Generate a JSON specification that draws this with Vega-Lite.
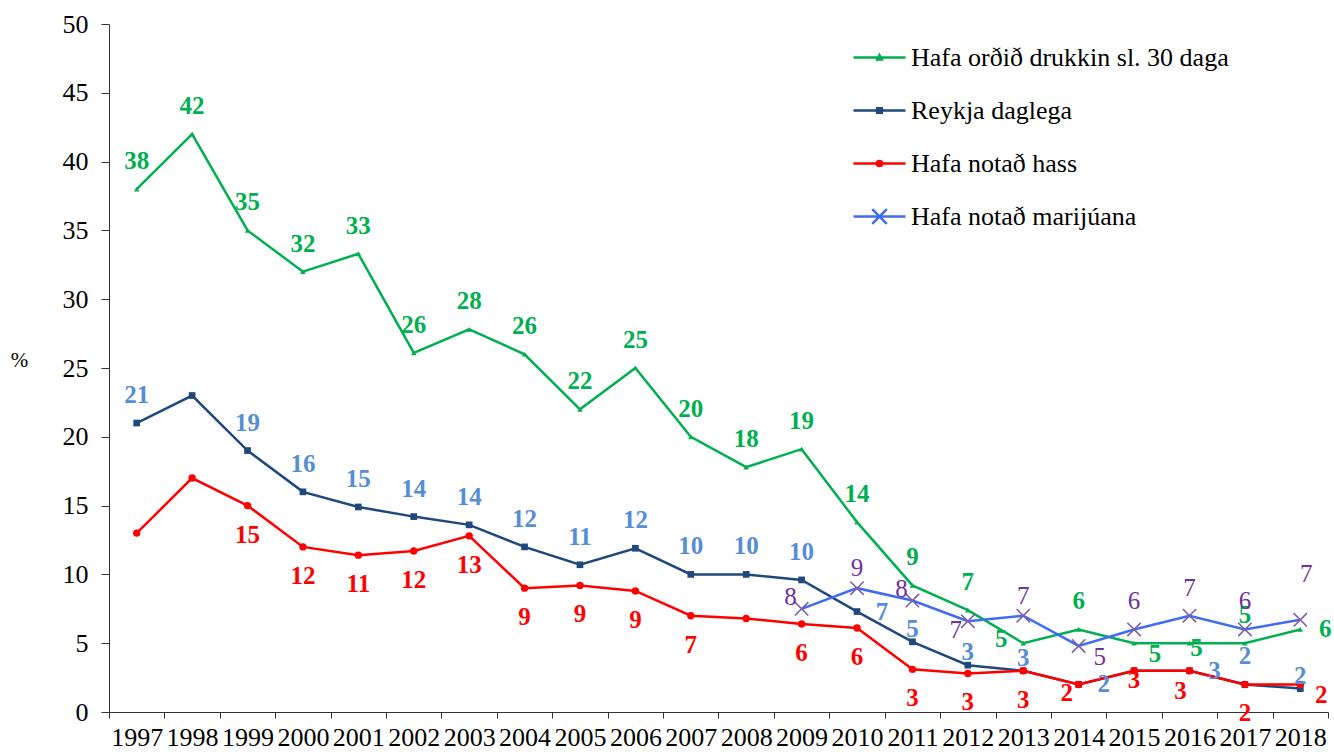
{
  "$schema": "https://vega.github.io/schema/vega-lite/v6.json",
  "width": 1219,
  "height": 688,
  "autosize": {"type": "none"},
  "padding": {"left": 109, "top": 24, "right": 6, "bottom": 43},
  "background": "white",
  "config": {"view": {"stroke": null}, "font": "Liberation Serif"},
  "data": {"values": [
    {"year": 1997, "series": "Hafa orðið drukkin sl. 30 daga", "value": 38, "pos": "above"},
    {"year": 1998, "series": "Hafa orðið drukkin sl. 30 daga", "value": 42, "pos": "above"},
    {"year": 1999, "series": "Hafa orðið drukkin sl. 30 daga", "value": 35, "pos": "above"},
    {"year": 2000, "series": "Hafa orðið drukkin sl. 30 daga", "value": 32, "pos": "above"},
    {"year": 2001, "series": "Hafa orðið drukkin sl. 30 daga", "value": 33.3, "pos": "above"},
    {"year": 2002, "series": "Hafa orðið drukkin sl. 30 daga", "value": 26.1, "pos": "above"},
    {"year": 2003, "series": "Hafa orðið drukkin sl. 30 daga", "value": 27.8, "pos": "above"},
    {"year": 2004, "series": "Hafa orðið drukkin sl. 30 daga", "value": 26, "pos": "above"},
    {"year": 2005, "series": "Hafa orðið drukkin sl. 30 daga", "value": 22, "pos": "above"},
    {"year": 2006, "series": "Hafa orðið drukkin sl. 30 daga", "value": 25, "pos": "above"},
    {"year": 2007, "series": "Hafa orðið drukkin sl. 30 daga", "value": 20, "pos": "above"},
    {"year": 2008, "series": "Hafa orðið drukkin sl. 30 daga", "value": 17.8, "pos": "above"},
    {"year": 2009, "series": "Hafa orðið drukkin sl. 30 daga", "value": 19.1, "pos": "above"},
    {"year": 2010, "series": "Hafa orðið drukkin sl. 30 daga", "value": 13.8, "pos": "above"},
    {"year": 2011, "series": "Hafa orðið drukkin sl. 30 daga", "value": 9.2, "pos": "above"},
    {"year": 2012, "series": "Hafa orðið drukkin sl. 30 daga", "value": 7.4, "pos": "above"},
    {"year": 2013, "series": "Hafa orðið drukkin sl. 30 daga", "value": 5, "pos": "left"},
    {"year": 2014, "series": "Hafa orðið drukkin sl. 30 daga", "value": 6, "pos": "above"},
    {"year": 2015, "series": "Hafa orðið drukkin sl. 30 daga", "value": 5, "pos": "downRight"},
    {"year": 2016, "series": "Hafa orðið drukkin sl. 30 daga", "value": 5, "pos": "onRight"},
    {"year": 2017, "series": "Hafa orðið drukkin sl. 30 daga", "value": 5, "pos": "above"},
    {"year": 2018, "series": "Hafa orðið drukkin sl. 30 daga", "value": 6, "pos": "right"},
    {"year": 1997, "series": "Reykja daglega", "value": 21, "pos": "above"},
    {"year": 1998, "series": "Reykja daglega", "value": 23, "pos": "none"},
    {"year": 1999, "series": "Reykja daglega", "value": 19, "pos": "above"},
    {"year": 2000, "series": "Reykja daglega", "value": 16, "pos": "above"},
    {"year": 2001, "series": "Reykja daglega", "value": 14.9, "pos": "above"},
    {"year": 2002, "series": "Reykja daglega", "value": 14.2, "pos": "above"},
    {"year": 2003, "series": "Reykja daglega", "value": 13.6, "pos": "above"},
    {"year": 2004, "series": "Reykja daglega", "value": 12, "pos": "above"},
    {"year": 2005, "series": "Reykja daglega", "value": 10.7, "pos": "above"},
    {"year": 2006, "series": "Reykja daglega", "value": 11.9, "pos": "above"},
    {"year": 2007, "series": "Reykja daglega", "value": 10, "pos": "above"},
    {"year": 2008, "series": "Reykja daglega", "value": 10, "pos": "above"},
    {"year": 2009, "series": "Reykja daglega", "value": 9.6, "pos": "above"},
    {"year": 2010, "series": "Reykja daglega", "value": 7.3, "pos": "right"},
    {"year": 2011, "series": "Reykja daglega", "value": 5.1, "pos": "nearAbove"},
    {"year": 2012, "series": "Reykja daglega", "value": 3.4, "pos": "nearAbove"},
    {"year": 2013, "series": "Reykja daglega", "value": 3, "pos": "nearAbove"},
    {"year": 2014, "series": "Reykja daglega", "value": 2, "pos": "right"},
    {"year": 2015, "series": "Reykja daglega", "value": 3, "pos": "none"},
    {"year": 2016, "series": "Reykja daglega", "value": 3, "pos": "right"},
    {"year": 2017, "series": "Reykja daglega", "value": 2, "pos": "above"},
    {"year": 2018, "series": "Reykja daglega", "value": 1.7, "pos": "nearAbove"},
    {"year": 1997, "series": "Hafa notað hass", "value": 13, "pos": "none"},
    {"year": 1998, "series": "Hafa notað hass", "value": 17, "pos": "none"},
    {"year": 1999, "series": "Hafa notað hass", "value": 15, "pos": "below"},
    {"year": 2000, "series": "Hafa notað hass", "value": 12, "pos": "below"},
    {"year": 2001, "series": "Hafa notað hass", "value": 11.4, "pos": "below"},
    {"year": 2002, "series": "Hafa notað hass", "value": 11.7, "pos": "below"},
    {"year": 2003, "series": "Hafa notað hass", "value": 12.8, "pos": "below"},
    {"year": 2004, "series": "Hafa notað hass", "value": 9, "pos": "below"},
    {"year": 2005, "series": "Hafa notað hass", "value": 9.2, "pos": "below"},
    {"year": 2006, "series": "Hafa notað hass", "value": 8.8, "pos": "below"},
    {"year": 2007, "series": "Hafa notað hass", "value": 7, "pos": "below"},
    {"year": 2008, "series": "Hafa notað hass", "value": 6.8, "pos": "none"},
    {"year": 2009, "series": "Hafa notað hass", "value": 6.4, "pos": "below"},
    {"year": 2010, "series": "Hafa notað hass", "value": 6.1, "pos": "below"},
    {"year": 2011, "series": "Hafa notað hass", "value": 3.1, "pos": "below"},
    {"year": 2012, "series": "Hafa notað hass", "value": 2.8, "pos": "below"},
    {"year": 2013, "series": "Hafa notað hass", "value": 3, "pos": "below"},
    {"year": 2014, "series": "Hafa notað hass", "value": 2, "pos": "downLeft"},
    {"year": 2015, "series": "Hafa notað hass", "value": 3, "pos": "nearBelow"},
    {"year": 2016, "series": "Hafa notað hass", "value": 3, "pos": "belowLeft"},
    {"year": 2017, "series": "Hafa notað hass", "value": 2, "pos": "below"},
    {"year": 2018, "series": "Hafa notað hass", "value": 2, "pos": "downRight"},
    {"year": 2009, "series": "Hafa notað marijúana", "value": 7.5, "pos": "upLeft"},
    {"year": 2010, "series": "Hafa notað marijúana", "value": 9, "pos": "aboveMid"},
    {"year": 2011, "series": "Hafa notað marijúana", "value": 8.1, "pos": "upLeft"},
    {"year": 2012, "series": "Hafa notað marijúana", "value": 6.6, "pos": "downLeft"},
    {"year": 2013, "series": "Hafa notað marijúana", "value": 7, "pos": "aboveMid"},
    {"year": 2014, "series": "Hafa notað marijúana", "value": 4.8, "pos": "downRight"},
    {"year": 2015, "series": "Hafa notað marijúana", "value": 6, "pos": "above"},
    {"year": 2016, "series": "Hafa notað marijúana", "value": 7, "pos": "above"},
    {"year": 2017, "series": "Hafa notað marijúana", "value": 6, "pos": "above"},
    {"year": 2018, "series": "Hafa notað marijúana", "value": 6.7, "pos": "high"}
  ]},
  "encoding": {
    "x": {
      "field": "year", "type": "ordinal",
      "scale": {"type": "band", "paddingInner": 0, "paddingOuter": 0},
      "axis": {"title": null, "labelAngle": 0, "tickBand": "extent", "tickSize": 6, "labelFontSize": 26, "labelFont": "Liberation Serif", "labelColor": "#000", "domainColor": "#333", "tickColor": "#333", "labelPadding": 6, "grid": false, "labelOverlap": false}
    },
    "y": {
      "field": "value", "type": "quantitative",
      "scale": {"domain": [0, 50], "nice": false},
      "axis": {"title": "%", "titleAngle": 0, "titleX": -90, "titleY": 336, "titleFontSize": 21, "titleFontWeight": "normal", "titleFont": "Liberation Serif", "titleAlign": "center", "titleBaseline": "middle", "titleColor": "#000", "values": [0, 5, 10, 15, 20, 25, 30, 35, 40, 45, 50], "tickSize": 8, "labelPadding": 13, "labelFontSize": 26, "labelFont": "Liberation Serif", "labelColor": "#000", "grid": false, "domainColor": "#333", "tickColor": "#333"}
    }
  },
  "layer": [
    {
      "mark": {"type": "line", "strokeWidth": 2.5},
      "encoding": {
        "stroke": {
          "field": "series", "type": "nominal",
          "scale": {"domain": ["Hafa orðið drukkin sl. 30 daga", "Reykja daglega", "Hafa notað hass", "Hafa notað marijúana"], "range": ["#00B050", "#1F497D", "#FF0000", "#3F6BF5"]},
          "legend": {
            "title": null, "orient": "none", "legendX": 743, "legendY": 6, "padding": 0,
            "symbolSize": 2704, "symbolStrokeWidth": 2.5, "symbolType": "stroke",
            "labelFontSize": 26, "labelFont": "Liberation Serif", "labelColor": "#000", "labelOffset": 4, "labelLimit": 700,
            "rowPadding": 12,
            "encode": {"symbols": {"update": {
              "shape": {"signal": "datum.index === 0 ? 'M-1,0H1M-0.09,0.08L0,-0.09L0.09,0.08Z' : datum.index === 1 ? 'M-1,0H1M-0.09,-0.09H0.09V0.09H-0.09Z' : datum.index === 2 ? 'M-1,0H1M-0.1,0A0.1,0.1 0 1,0 0.1,0A0.1,0.1 0 1,0 -0.1,0Z' : 'M-1,0H1M-0.28,-0.28L0.28,0.28M-0.28,0.28L0.28,-0.28'"},
              "fill": {"scale": "stroke", "field": "value"}
            }}}
          }
        }
      }
    },
    {
      "transform": [{"filter": "datum.series === 'Hafa orðið drukkin sl. 30 daga'"}],
      "mark": {"type": "point", "shape": "triangle-up", "size": 30, "filled": true, "color": "#00B050", "opacity": 1}
    },
    {
      "transform": [{"filter": "datum.series === 'Reykja daglega'"}],
      "mark": {"type": "point", "shape": "square", "size": 45, "filled": true, "color": "#1F497D", "opacity": 1}
    },
    {
      "transform": [{"filter": "datum.series === 'Hafa notað hass'"}],
      "mark": {"type": "point", "shape": "circle", "size": 55, "filled": true, "color": "#FF0000", "opacity": 1}
    },
    {
      "transform": [{"filter": "datum.series === 'Hafa notað marijúana'"}],
      "mark": {"type": "point", "shape": "M-1,-1L1,1M-1,1L1,-1", "size": 180, "filled": false, "color": "#7F60A8", "strokeWidth": 1.6, "opacity": 1}
    },
    {
      "transform": [{"filter": "datum.pos !== 'none'"}],
      "mark": {
        "type": "text", "font": "Liberation Serif", "fontSize": 25, "baseline": "middle", "align": "center",
        "fontWeight": {"expr": "datum.series === 'Hafa notað marijúana' ? 'normal' : 'bold'"},
        "dx": {"expr": "({above: 0, aboveMid: 0, nearAbove: 0, below: 0, nearBelow: 0, left: -22, right: 25, upLeft: -11, downLeft: -12, downRight: 21, onRight: 7, high: 6, belowLeft: -9})[datum.pos]"},
        "dy": {"expr": "({above: -28, aboveMid: -20, nearAbove: -13, below: 29, nearBelow: 9, left: -4, right: 0, upLeft: -12, downLeft: 9, downRight: 11, onRight: 5, high: -46, belowLeft: 20})[datum.pos]"}
      },
      "encoding": {
        "text": {"field": "value", "type": "quantitative", "format": ".0f"},
        "fill": {
          "field": "series", "type": "nominal",
          "scale": {"domain": ["Hafa orðið drukkin sl. 30 daga", "Reykja daglega", "Hafa notað hass", "Hafa notað marijúana"], "range": ["#00B050", "#558ED5", "#FF0000", "#7030A0"]},
          "legend": null
        }
      }
    }
  ]
}
